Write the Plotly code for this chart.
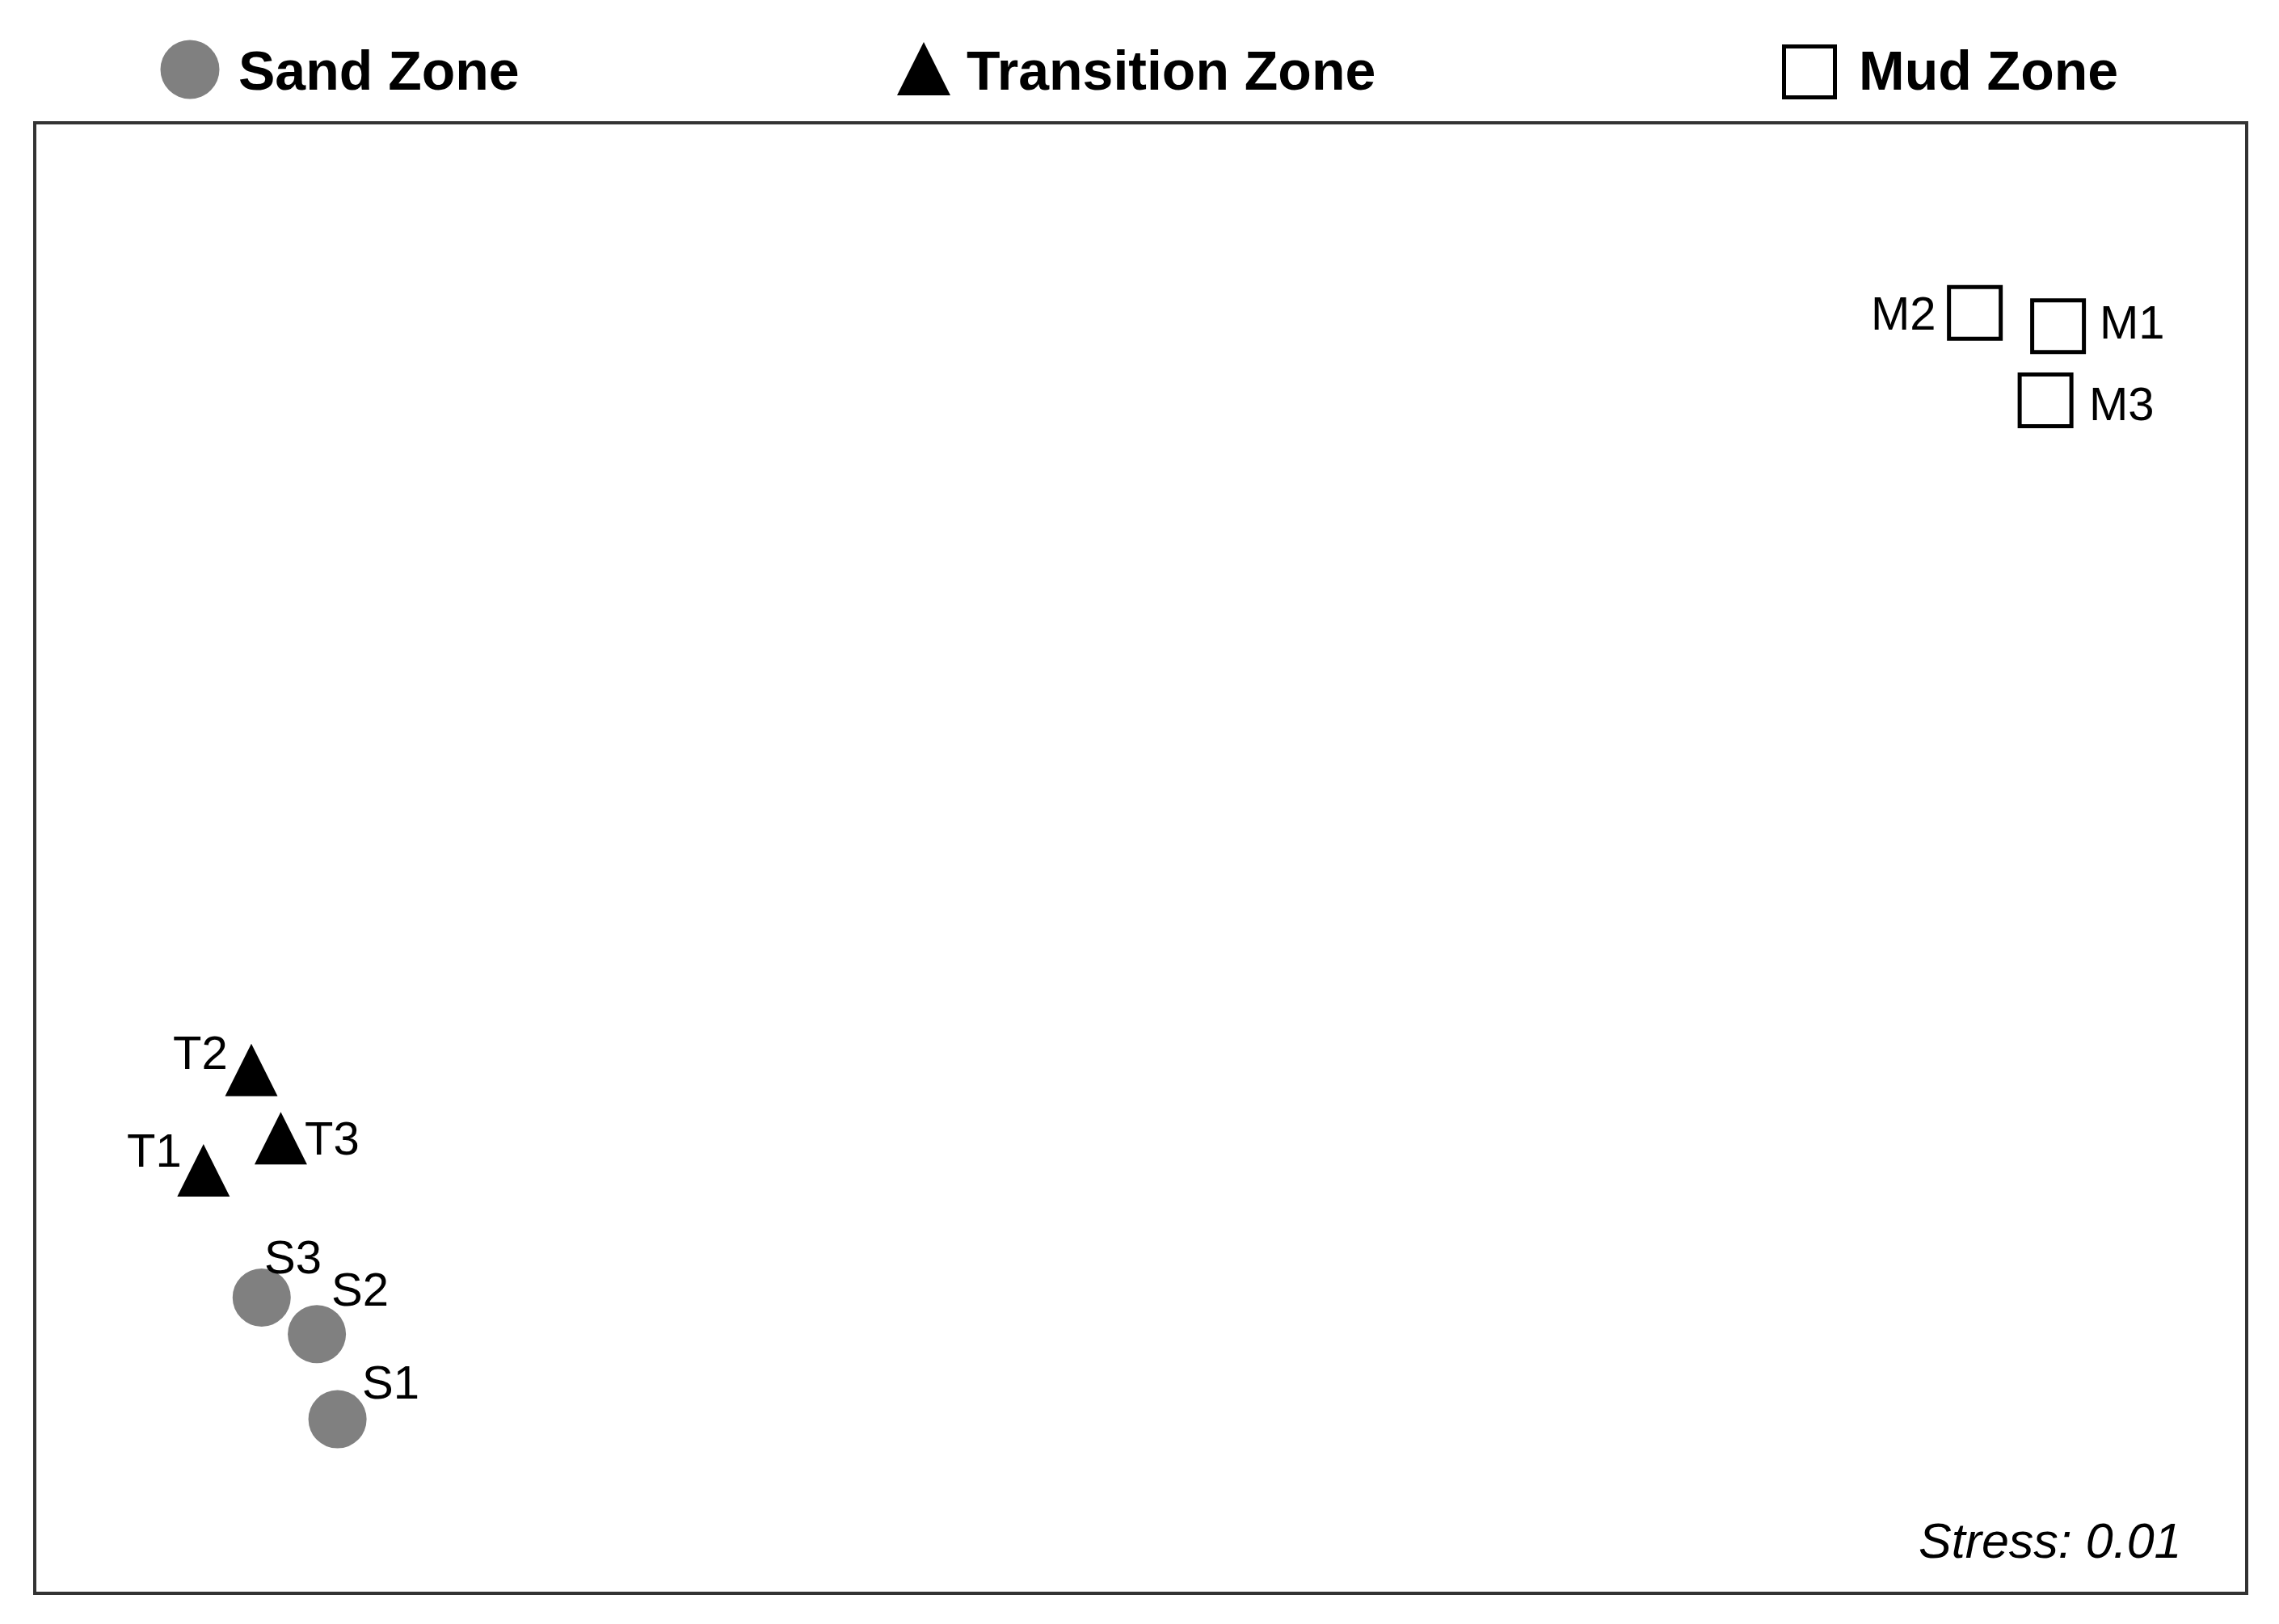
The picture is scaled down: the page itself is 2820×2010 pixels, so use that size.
import plotly.graph_objects as go

# NMDS ordination scores (unitless axes)
sand_labels = ["S1", "S2", "S3"]
sand_x = [-1.091, -1.119, -1.194]
sand_y = [-0.765, -0.649, -0.599]

trans_labels = ["T1", "T2", "T3"]
trans_x = [-1.273, -1.208, -1.168]
trans_y = [-0.390, -0.253, -0.346]

mud_labels = ["M1", "M2", "M3"]
mud_x = [1.246, 1.133, 1.229]
mud_y = [0.725, 0.743, 0.624]

zone_names = ["Sand Zone", "Transition Zone", "Mud Zone"]
stress_value = 0.01

# label offsets from each marker, in pixels (dx, dy up)
label_shift = {
    "S1": (66, 46), "S2": (53, 56), "S3": (39, 50),
    "T1": (-61, -7), "T2": (-63, -11), "T3": (64, -32),
    "M1": (92, 5), "M2": (-88, 0), "M3": (94, -4),
}

# page body adds a small margin, so lay out in a slightly smaller canvas
OFF = 8
W, H = 2820 - OFF, 2010 - OFF
left, right, top, bottom = 45 - OFF, 2778 - OFF, 154 - OFF, 1970 - OFF
font = "Liberation Sans, Arial, sans-serif"
grey = "#808080"

fig = go.Figure()

fig.add_trace(go.Scatter(
    x=sand_x, y=sand_y, mode="markers", name=zone_names[0],
    marker=dict(symbol="circle", size=72, color=grey, line=dict(width=0)),
))
fig.add_trace(go.Scatter(
    x=trans_x, y=trans_y, mode="markers", name=zone_names[1],
    marker=dict(symbol="arrow-up", size=65, color="black", line=dict(width=0)),
))
fig.add_trace(go.Scatter(
    x=mud_x, y=mud_y, mode="markers", name=zone_names[2],
    marker=dict(symbol="square", size=64, color="white",
                line=dict(width=5, color="black")),
))

# point labels
for labs, xs, ys in [(sand_labels, sand_x, sand_y),
                     (trans_labels, trans_x, trans_y),
                     (mud_labels, mud_x, mud_y)]:
    for lab, x, y in zip(labs, xs, ys):
        dx, dy = label_shift[lab]
        fig.add_annotation(x=x, y=y, xref="x", yref="y", text=lab,
                           showarrow=False, xshift=dx, yshift=dy,
                           font=dict(family=font, size=58, color="black"))

# legend strip above the frame (drawn by hand so keys can be large)
key_x = [235 - OFF, 1143 - OFF, 2239 - OFF]
key_y = [86 - OFF, 52 - OFF, 89 - OFF]
text_x = [293 - OFF, 1194 - OFF, 2298 - OFF]
text_y = 87 - OFF
fig.add_trace(go.Scatter(
    x=[key_x[0]], y=[key_y[0]], xaxis="x2", yaxis="y2", mode="markers",
    marker=dict(symbol="circle", size=73, color=grey, line=dict(width=0)),
))
fig.add_trace(go.Scatter(
    x=[key_x[1]], y=[key_y[1]], xaxis="x2", yaxis="y2", mode="markers",
    marker=dict(symbol="arrow-up", size=66, color="black", line=dict(width=0)),
))
fig.add_trace(go.Scatter(
    x=[key_x[2]], y=[key_y[2]], xaxis="x2", yaxis="y2", mode="markers",
    marker=dict(symbol="square", size=63, color="white",
                line=dict(width=5, color="black")),
))
for name, tx in zip(zone_names, text_x):
    fig.add_annotation(x=tx, y=text_y, xref="x2", yref="y2", text="<b>" + name + "</b>",
                       showarrow=False, xanchor="left", yanchor="middle",
                       font=dict(family=font, size=68, color="black"))

fig.add_annotation(x=(2702 - OFF) / W, y=1 - (1907 - OFF) / H, xref="paper", yref="paper",
                   text="<i>Stress: %.2f</i>" % stress_value, showarrow=False,
                   xanchor="right", yanchor="middle",
                   font=dict(family=font, size=61, color="black"))

hidden = dict(showgrid=False, zeroline=False, showticklabels=False, ticks="")
fig.update_layout(
    width=W, height=H,
    margin=dict(l=0, r=0, t=0, b=0),
    paper_bgcolor="white", plot_bgcolor="white",
    showlegend=False,
    xaxis=dict(domain=[left / W, right / W], range=[-1.5, 1.5],
               showline=True, mirror=True, linecolor="#333", linewidth=4, **hidden),
    yaxis=dict(domain=[(H - bottom) / H, (H - top) / H], range=[-1, 1],
               showline=True, mirror=True, linecolor="#333", linewidth=4, **hidden),
    xaxis2=dict(domain=[0, 1], range=[0, W], anchor="y2", visible=False),
    yaxis2=dict(domain=[(H - top) / H, 1], range=[top, 0], anchor="x2", visible=False),
)

fig.write_html("out.html")
